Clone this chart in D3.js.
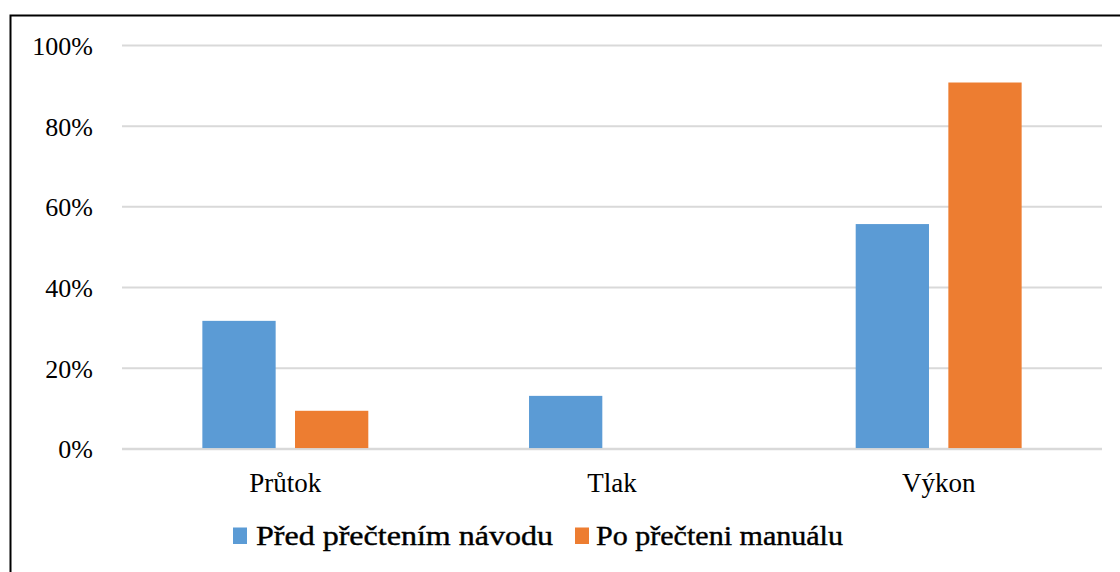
<!DOCTYPE html>
<html>
<head>
<meta charset="utf-8">
<script src="https://cdn.jsdelivr.net/npm/d3@7/dist/d3.min.js"></script>
</head>
<body style="margin:0;padding:0;background:#fff">
<svg id="chart" width="1120" height="572"></svg>
<script>
const categories = ["Průtok", "Tlak", "Výkon"];
const seriesNames = ["Před přečtením návodu", "Po přečteni manuálu"];
const seriesBefore = [0.316, 0.13, 0.556];
const seriesAfter = [0.093, 0, 0.907];
const yTicks = [0, 0.2, 0.4, 0.6, 0.8, 1.0];
const colors = ["#5b9bd5", "#ed7d31"];

(function () {
const svg = d3.select("#chart");
const W = 1120, H = 572;
svg.append("rect").attr("width", W).attr("height", H).attr("fill", "#fff");

svg.append("rect")
  .attr("x", 10.5).attr("y", 15.5)
  .attr("width", 1200).attr("height", 700)
  .attr("fill", "none").attr("stroke", "#000").attr("stroke-width", 2);

const pLeft = 122, pRight = 1102, pTop = 45, pBottom = 448.3;

const x0 = d3.scaleBand().domain(categories).range([pLeft, pRight])
  .paddingInner(0.492).paddingOuter(0.246);
const x1 = d3.scaleBand().domain(seriesNames).range([0, x0.bandwidth()])
  .paddingInner(0.209).paddingOuter(0);
const y = d3.scaleLinear().domain([0, 1]).range([pBottom, pTop]);

const yAxis = d3.axisLeft(y).tickValues(yTicks)
  .tickSize(-(pRight - pLeft)).tickFormat(d => Math.round(d * 100) + "%");
const gy = svg.append("g").attr("transform", `translate(${pLeft},0)`).call(yAxis);
gy.select(".domain").remove();
gy.selectAll(".tick line").attr("stroke", "#d9d9d9").attr("stroke-width", 2);
gy.selectAll(".tick text")
  .attr("x", -29).attr("dy", "0.36em")
  .style("font-family", "Liberation Serif").style("font-size", "26px")
  .attr("fill", "#000");

const data = categories.map((c, i) => ({ cat: c, vals: [seriesBefore[i], seriesAfter[i]] }));
const groups = svg.append("g").selectAll("g").data(data).join("g")
  .attr("transform", d => `translate(${x0(d.cat)},0)`);
groups.selectAll("rect")
  .data(d => d.vals.map((v, j) => ({ s: seriesNames[j], v, j })).filter(e => e.v > 0))
  .join("rect")
  .attr("x", d => x1(d.s))
  .attr("y", d => y(d.v))
  .attr("width", x1.bandwidth())
  .attr("height", d => y(0) - y(d.v))
  .attr("fill", d => colors[d.j]);

svg.append("line")
  .attr("x1", pLeft).attr("x2", pRight)
  .attr("y1", y(0) + 1).attr("y2", y(0) + 1)
  .attr("stroke", "#d9d9d9").attr("stroke-width", 2);

const xAxis = d3.axisBottom(x0).tickSize(0);
const gx = svg.append("g").attr("transform", `translate(0,${pBottom})`).call(xAxis);
gx.select(".domain").remove();
gx.selectAll(".tick text")
  .attr("y", 0).attr("dy", "43.5")
  .style("font-family", "Liberation Serif").style("font-size", "27px")
  .attr("fill", "#000");

const legendItems = [
  { name: seriesNames[0], color: colors[0], sx: 233, tx: 256, tw: 297 },
  { name: seriesNames[1], color: colors[1], sx: 575, tx: 596, tw: 247 }
];
const lg = svg.append("g");
legendItems.forEach(it => {
  lg.append("rect").attr("x", it.sx).attr("y", 527.5).attr("width", 14).attr("height", 16.5)
    .attr("fill", it.color);
  lg.append("text").attr("x", it.tx).attr("y", 544.5)
    .style("font-family", "Liberation Serif").style("font-size", "27px")
    .attr("textLength", it.tw).attr("lengthAdjust", "spacingAndGlyphs")
    .attr("fill", "#000")
    .attr("stroke", "#000").attr("stroke-width", 0.4)
    .text(it.name);
});
})();
</script>
</body>
</html>
